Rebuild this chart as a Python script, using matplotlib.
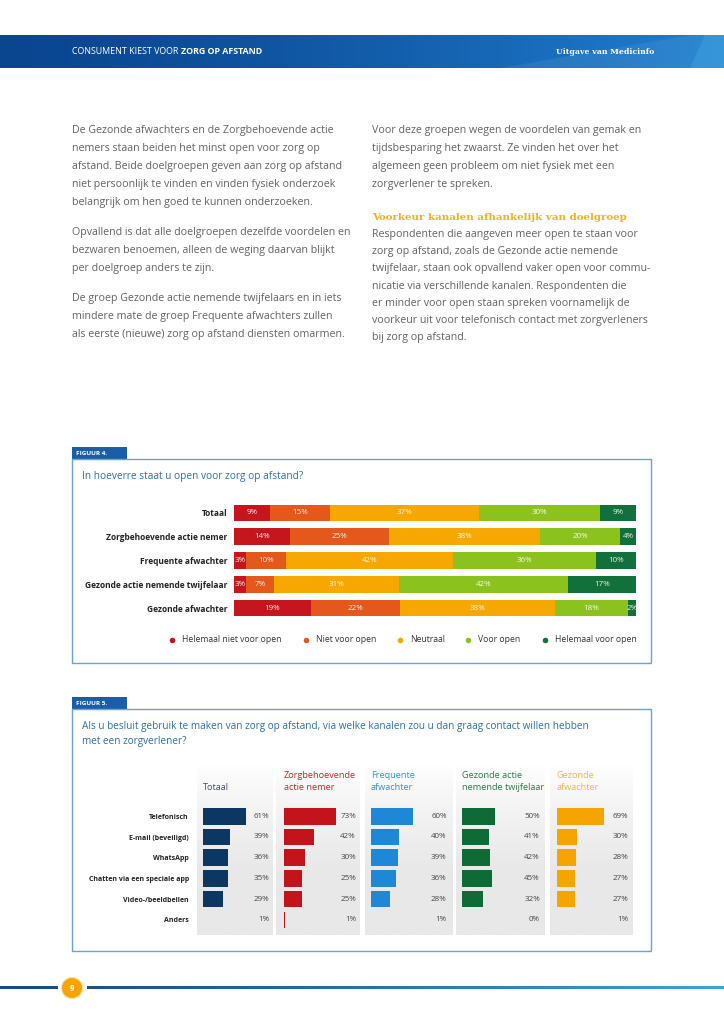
import numpy as np
import matplotlib
matplotlib.use('Agg')
import matplotlib.pyplot as plt
from matplotlib.patches import Rectangle, Circle, Polygon
from matplotlib.colors import to_rgb

plt.rcParams['font.family'] = ['Open Sans', 'DejaVu Sans']

# ---------------- data ----------------
f4_groups = ["Totaal", "Zorgbehoevende actie nemer", "Frequente afwachter",
             "Gezonde actie nemende twijfelaar", "Gezonde afwachter"]
f4_cats = ["Helemaal niet voor open", "Niet voor open", "Neutraal", "Voor open", "Helemaal voor open"]
f4_helemaal_niet = [9, 14, 3, 3, 19]
f4_niet = [15, 25, 10, 7, 22]
f4_neutraal = [37, 38, 42, 31, 38]
f4_voor = [30, 20, 36, 42, 18]
f4_helemaal_voor = [9, 4, 10, 17, 2]

f5_channels = ["Telefonisch", "E-mail (beveiligd)", "WhatsApp", "Chatten via een speciale app",
               "Video-/beeldbellen", "Anders"]
f5_groups = ["Totaal", "Zorgbehoevende\nactie nemer", "Frequente\nafwachter",
             "Gezonde actie\nnemende twijfelaar", "Gezonde\nafwachter"]
f5_totaal = [61, 39, 36, 35, 29, 1]
f5_zorg = [73, 42, 30, 25, 25, 1]
f5_freq = [60, 40, 39, 36, 28, 1]
f5_gez_actie = [50, 41, 42, 45, 32, 0]
f5_gez_afw = [69, 30, 28, 27, 27, 1]

left_text = [
    "De Gezonde afwachters en de Zorgbehoevende actie",
    "nemers staan beiden het minst open voor zorg op",
    "afstand. Beide doelgroepen geven aan zorg op afstand",
    "niet persoonlijk te vinden en vinden fysiek onderzoek",
    "belangrijk om hen goed te kunnen onderzoeken.",
    "",
    "Opvallend is dat alle doelgroepen dezelfde voordelen en",
    "bezwaren benoemen, alleen de weging daarvan blijkt",
    "per doelgroep anders te zijn.",
    "",
    "De groep Gezonde actie nemende twijfelaars en in iets",
    "mindere mate de groep Frequente afwachters zullen",
    "als eerste (nieuwe) zorg op afstand diensten omarmen.",
]
right_text_top = [
    "Voor deze groepen wegen de voordelen van gemak en",
    "tijdsbesparing het zwaarst. Ze vinden het over het",
    "algemeen geen probleem om niet fysiek met een",
    "zorgverlener te spreken.",
]
right_heading = "Voorkeur kanalen afhankelijk van doelgroep"
right_text_bottom = [
    "Respondenten die aangeven meer open te staan voor",
    "zorg op afstand, zoals de Gezonde actie nemende",
    "twijfelaar, staan ook opvallend vaker open voor commu-",
    "nicatie via verschillende kanalen. Respondenten die",
    "er minder voor open staan spreken voornamelijk de",
    "voorkeur uit voor telefonisch contact met zorgverleners",
    "bij zorg op afstand.",
]

# ---------------- figure ----------------
W, H = 724, 1024
fig = plt.figure(figsize=(W / 100, H / 100), dpi=100)
fig.patch.set_facecolor('white')
bg = fig.add_axes([0, 0, 1, 1])
bg.axis('off')


def px_axes(x0, y0, x1, y1):
    a = fig.add_axes([x0 / W, 1 - y1 / H, (x1 - x0) / W, (y1 - y0) / H])
    a.set_facecolor('none')
    for s in a.spines.values():
        s.set_visible(False)
    return a


# header band
t = np.linspace(0, 1, 400)
c0 = np.array(to_rgb('#0a4590'))
c1 = np.array(to_rgb('#1f7fd0'))
img = c0 + (c1 - c0) * (t[:, None] ** 1.3)
bg.imshow(img.reshape(1, -1, 3), extent=[0, W, 68, 35], aspect='auto', zorder=1)
bg.add_patch(Polygon([(500, 68), (724, 68), (724, 35), (690, 35)], closed=True,
                     fc='white', alpha=0.07, lw=0, zorder=2))
bg.add_patch(Polygon([(690, 68), (724, 68), (724, 35), (705, 35)], closed=True,
                     fc='#4fc0f0', alpha=0.25, lw=0, zorder=2))

fig.canvas.draw()
renderer = fig.canvas.get_renderer()
t1 = bg.text(72, 51.5, "CONSUMENT KIEST VOOR ", color='white', fontsize=6.4,
             va='center', ha='left', zorder=3)
bb = t1.get_window_extent(renderer=renderer)
x_end = bb.x1
bg.text(x_end, 51.5, "ZORG OP AFSTAND", color='white', fontsize=6.4, fontweight='bold',
        va='center', ha='left', zorder=3)
bg.text(556, 51.5, "Uitgave van Medicinfo", color='white', fontsize=5.6, fontweight='bold',
        family='DejaVu Serif', va='center', ha='left', zorder=3)

# body text
body_kw = dict(fontsize=7.7, color='#626262', va='center', ha='left')
y = 131
for line in left_text:
    if line:
        bg.text(72, y, line, **body_kw)
        y += 18
    else:
        y += 12
for i, line in enumerate(right_text_top):
    bg.text(372, 131 + 18 * i, line, **body_kw)
bg.text(372, 217, right_heading, family='DejaVu Serif', fontweight='bold',
        color='#f0b21a', fontsize=7.4, va='center', ha='left')
for i, line in enumerate(right_text_bottom):
    bg.text(372, 234.5 + 17.2 * i, line, **body_kw)

# ---------------- figure 4 ----------------
box_ec = '#6aa3d3'
tab_c = '#1b5ea8'
title_c = '#2f6ea6'
bg.add_patch(Rectangle((72, 447), 55, 12, fc=tab_c, lw=0))
bg.text(76, 453.5, "FIGUUR 4.", color='white', fontsize=4.6, fontweight='bold', va='center')
bg.add_patch(Rectangle((72, 459), 579, 204, fill=False, ec=box_ec, lw=1.0))
bg.text(82, 476, "In hoeverre staat u open voor zorg op afstand?", color=title_c,
        fontsize=7.3, va='center')

colors4 = ['#c4161c', '#e4581c', '#f6a800', '#8cc21e', '#12703a']
series4 = np.array([f4_helemaal_niet, f4_niet, f4_neutraal, f4_voor, f4_helemaal_voor], dtype=float)
totals = series4.sum(axis=0)
ax4 = px_axes(234, 500.75, 636, 620.25)
lefts = np.zeros(len(f4_groups))
ypos = np.arange(len(f4_groups))
for k in range(len(f4_cats)):
    widths = series4[k] / totals * 100
    ax4.barh(ypos, widths, left=lefts, height=0.68, color=colors4[k], lw=0)
    for i in range(len(f4_groups)):
        ax4.text(lefts[i] + widths[i] / 2, ypos[i], f"{int(series4[k, i])}%", ha='center',
                 va='center', color='white', fontsize=5.8, alpha=0.92)
    lefts += widths
ax4.set_xlim(0, 100)
ax4.set_ylim(len(f4_groups) - 0.5, -0.5)
ax4.set_xticks([])
ax4.set_yticks(ypos)
ax4.set_yticklabels(f4_groups, fontweight='bold', fontsize=6.0, color='#222222')
ax4.tick_params(axis='y', length=0, pad=5)

leg_x = [172, 306, 400, 468, 545]
for k, (lx, lab) in enumerate(zip(leg_x, f4_cats)):
    bg.scatter([lx], [640], s=16, color=colors4[k], lw=0, zorder=3)
    bg.text(lx + 10, 640, lab, fontsize=6.2, color='#333333', va='center', ha='left')

# ---------------- figure 5 ----------------
bg.add_patch(Rectangle((72, 697), 55, 12, fc=tab_c, lw=0))
bg.text(76, 703.5, "FIGUUR 5.", color='white', fontsize=4.6, fontweight='bold', va='center')
bg.add_patch(Rectangle((72, 709), 579, 242, fill=False, ec=box_ec, lw=1.0))
bg.text(82, 727, "Als u besluit gebruik te maken van zorg op afstand, via welke kanalen zou u dan graag contact willen hebben",
        color=title_c, fontsize=7.2, va='center')
bg.text(82, 741.5, "met een zorgverlener?", color=title_c, fontsize=7.2, va='center')

panels = [(197, 273, 202.7, 269.0, 0.71),
          (276, 360, 284.0, 356.0, 0.712),
          (365, 453, 370.7, 446.7, 0.70),
          (456, 545, 461.7, 540.0, 0.67),
          (550, 633, 556.7, 628.0, 0.68)]
head_c = ['#3d4f63', '#c0272d', '#2f92d8', '#2b7a48', '#f2b640']
bar_c = ['#0c3763', '#c4141b', '#1e88d6', '#0f6b35', '#f5a400']
series5 = [f5_totaal, f5_zorg, f5_freq, f5_gez_actie, f5_gez_afw]

g = np.linspace(0, 1, 200)
top_c = np.array([1.0, 1.0, 1.0])
bot_c = np.array(to_rgb('#e8e8e8'))
gimg = top_c + (bot_c - top_c) * (np.clip(g * 1.6, 0, 1)[:, None] ** 0.8)
for (px0, px1, bx0, bx1, sc), hc, bc, vals, grp in zip(panels, head_c, bar_c, series5, f5_groups):
    bg.imshow(gimg.reshape(-1, 1, 3), extent=[px0, px1, 935, 765], aspect='auto', zorder=0.5)
    lines = grp.split('\n')
    for j, ln in enumerate(reversed(lines)):
        bg.text(bx0, 788 - 13 * j, ln, color=hc, fontsize=6.6, va='center', ha='left')
    ax = px_axes(bx0, 805.95, bx1, 930.15)
    xmax = (bx1 - bx0) / sc
    yy = np.arange(len(f5_channels))
    ax.barh(yy, vals, height=0.8, color=bc, lw=0)
    for i, v in enumerate(vals):
        ax.text(xmax, i, f"{v}%", ha='right', va='center', fontsize=5.8, color='#444444')
    ax.set_xlim(0, xmax)
    ax.set_ylim(len(f5_channels) - 0.5, -0.5)
    ax.set_xticks([])
    if bx0 == panels[0][2]:
        ax.set_yticks(yy)
        ax.set_yticklabels(f5_channels, fontweight='bold', fontsize=5.0, color='#222222')
        ax.tick_params(axis='y', length=0, pad=10)
    else:
        ax.set_yticks([])

# ---------------- footer ----------------
fl = np.linspace(0, 1, 400)
fc0 = np.array(to_rgb('#174a86'))
fc1 = np.array(to_rgb('#35a8d6'))
fimg = (fc0 + (fc1 - fc0) * fl[:, None] ** 1.2).reshape(1, -1, 3)
bg.imshow(fimg, extent=[0, W, 989.5, 986.5], aspect='auto', zorder=1)
bg.add_patch(Rectangle((58, 984), 29, 8, fc='white', lw=0, zorder=2))
bg.add_patch(Circle((72, 988), 10.5, fc='#f5a400', ec='#fde2a0', lw=0.8, zorder=3))
bg.text(72, 988.5, "9", color='white', fontsize=5.5, fontweight='bold', ha='center',
        va='center', zorder=4)

bg.set_xlim(0, W)
bg.set_ylim(H, 0)
bg.set_aspect('auto')

fig.savefig('out.png', dpi=100, facecolor='white')
